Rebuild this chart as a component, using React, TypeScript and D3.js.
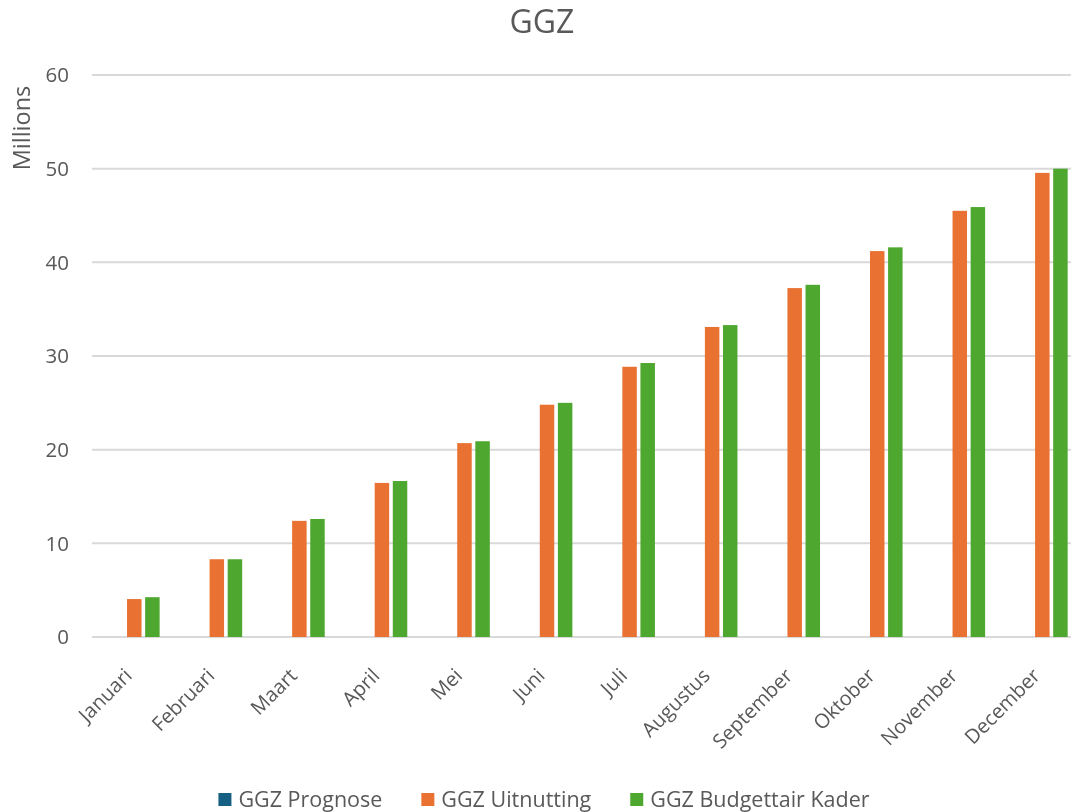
import React, { useEffect, useRef } from "react"
import * as d3 from "d3"

const months = ["Januari", "Februari", "Maart", "April", "Mei", "Juni", "Juli", "Augustus", "September", "Oktober", "November", "December"]
const seriesNames = ["GGZ Prognose", "GGZ Uitnutting", "GGZ Budgettair Kader"]
const seriesColors = ["#156082", "#E97132", "#4EA72E"]

// values in millions
const prognose = [0, 0, 0, 0, 0, 0, 0, 0, 0, 0, 0, 0]
const uitnutting = [4.05, 8.3, 12.4, 16.45, 20.7, 24.8, 28.85, 33.1, 37.25, 41.2, 45.5, 49.55]
const budgettairKader = [4.25, 8.3, 12.6, 16.65, 20.9, 25.0, 29.25, 33.3, 37.6, 41.6, 45.9, 50.0]
const yTicks = [0, 10, 20, 30, 40, 50, 60]

const font = "'Open Sans', sans-serif"
const textColor = "#595959"
const gridColor = "#D9D9D9"

export default function App() {
    const ref = useRef<SVGSVGElement>(null)

    useEffect(() => {
        const svg = d3.select(ref.current)
        svg.selectAll("*").remove()

        const width = 1071
        const height = 812
        const left = 93
        const right = 1083.6
        const top = 75
        const bottom = 637

        const values = [prognose, uitnutting, budgettairKader]

        const x0 = d3.scaleBand<string>()
            .domain(months)
            .range([left, right])
            .paddingInner(0.386)
            .paddingOuter(0.193)

        const x1 = d3.scaleBand<string>()
            .domain(seriesNames)
            .range([0, x0.bandwidth()])
            .paddingInner(0.2)

        const y = d3.scaleLinear().domain([0, 60]).range([bottom, top])

        svg.attr("width", width).attr("height", height)

        // title
        svg.append("text")
            .attr("x", 542)
            .attr("y", 33)
            .attr("text-anchor", "middle")
            .attr("font-family", font)
            .attr("font-size", 32)
            .attr("fill", textColor)
            .text("GGZ")

        // gridlines
        svg.append("g")
            .selectAll("line")
            .data(yTicks)
            .enter()
            .append("line")
            .attr("x1", left - 1)
            .attr("x2", right)
            .attr("y1", d => y(d))
            .attr("y2", d => y(d))
            .attr("stroke", gridColor)
            .attr("stroke-width", 2)

        // y labels
        svg.append("g")
            .selectAll("text")
            .data(yTicks)
            .enter()
            .append("text")
            .attr("x", 69)
            .attr("y", d => y(d))
            .attr("dy", "0.36em")
            .attr("text-anchor", "end")
            .attr("font-family", font)
            .attr("font-size", 20.5)
            .attr("fill", textColor)
            .text(d => d)

        svg.append("text")
            .attr("transform", "translate(30,128) rotate(-90)")
            .attr("text-anchor", "middle")
            .attr("font-family", font)
            .attr("font-size", 23.5)
            .attr("fill", textColor)
            .text("Millions")

        // bars
        seriesNames.forEach((name, si) => {
            svg.append("g")
                .selectAll("rect")
                .data(values[si])
                .enter()
                .append("rect")
                .attr("x", (d, i) => x0(months[i])! + x1(name)!)
                .attr("width", x1.bandwidth())
                .attr("y", d => y(d))
                .attr("height", d => y(0) - y(d))
                .attr("fill", seriesColors[si])
        })

        // x labels
        svg.append("g")
            .selectAll("text")
            .data(months)
            .enter()
            .append("text")
            .attr("transform", d => "translate(" + (x0(d)! + x0.bandwidth() / 2 - 1) + ",677) rotate(-45)")
            .attr("text-anchor", "end")
            .attr("font-family", font)
            .attr("font-size", 20)
            .attr("fill", textColor)
            .text(d => d)

        // legend
        const legend = svg.append("g")
        const sq = 13
        const gap = 7
        const itemGap = 39
        let cursor = 0
        seriesNames.forEach((name, si) => {
            const item = legend.append("g").attr("transform", "translate(" + cursor + ",0)")
            item.append("rect")
                .attr("x", 0)
                .attr("y", 793)
                .attr("width", sq)
                .attr("height", sq)
                .attr("fill", seriesColors[si])
            const t = item.append("text")
                .attr("x", sq + gap)
                .attr("y", 807)
                .attr("font-family", font)
                .attr("font-size", 21.5)
                .attr("fill", textColor)
                .text(name)
            const w = (t.node() as SVGTextElement).getComputedTextLength()
            cursor += sq + gap + w + itemGap
        })
        const total = cursor - itemGap
        legend.attr("transform", "translate(" + (544 - total / 2) + ",0)")
    }, [])

    return (
        <div style={{ position: "fixed", left: 0, top: 0 }}>
            <svg ref={ref} style={{ display: "block" }} />
        </div>
    )
}
